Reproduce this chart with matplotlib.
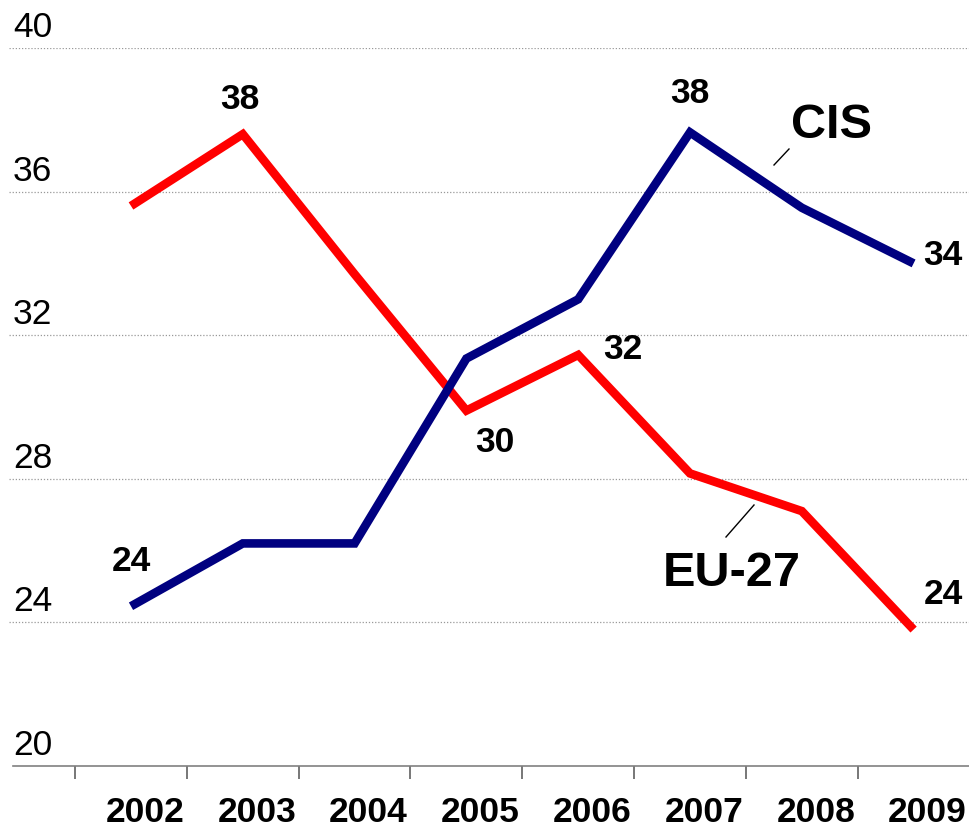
import matplotlib
matplotlib.use("Agg")
import matplotlib.pyplot as plt
import matplotlib.transforms as mtransforms

years = ["2002", "2003", "2004", "2005", "2006", "2007", "2008", "2009"]
cis = [24.45, 26.2, 26.2, 31.35, 33.0, 37.65, 35.55, 34.0]
eu27 = [35.6, 37.6, 33.7, 29.9, 31.45, 28.15, 27.1, 23.8]
y_ticks = [20, 24, 28, 32, 36, 40]

# data labels: (index, text, dx_px, dy_px)
cis_labels = [(0, "24", 0, 45), (5, "38", 0, 39), (7, "34", 29, 8)]
eu_labels = [(1, "38", -3, 35), (3, "30", 28, -32), (4, "32", 45, 5), (7, "24", 30, 35)]

plt.rcParams['font.family'] = ['Liberation Sans', 'DejaVu Sans']

W, H = 969, 830
fig = plt.figure(figsize=(W / 100, H / 100), dpi=100)
step = 111.8
x0px = 131.0
left_px, right_px = 9, 969
ax = fig.add_axes([left_px / W, (H - 766) / H, (right_px - left_px) / W, (766 - 48) / H])
ax.set_xlim((left_px - x0px) / step, (right_px - x0px) / step)
ax.set_ylim(20, 40)

xs = list(range(len(years)))
navy = "#000080"
red = "#FF0000"
ax.plot(xs, eu27, color=red, lw=6.2, solid_joinstyle='miter', solid_capstyle='butt', zorder=3)
ax.plot(xs, cis, color=navy, lw=6.2, solid_joinstyle='miter', solid_capstyle='butt', zorder=4)

# gridlines
for v in y_ticks[1:]:
    ax.axhline(v, color="#999999", lw=0.9, ls=(0, (1, 1.5)), zorder=1)

for s in ["top", "right", "left"]:
    ax.spines[s].set_visible(False)
ax.spines["bottom"].set_color("#808080")
ax.spines["bottom"].set_linewidth(1.2)
ax.spines["bottom"].set_bounds((13 - x0px) / step, (right_px - x0px) / step)

ax.set_xticks([i - 0.5 for i in range(len(years))])
ax.set_xticklabels([])
ax.tick_params(axis='x', direction='out', length=9, width=1.2, color="#606060")
ax.set_yticks([])

# y labels
ytrans = mtransforms.blended_transform_factory(fig.transFigure, ax.transData)
for v in y_ticks:
    off = mtransforms.ScaledTranslation(0, 11 / 100, fig.dpi_scale_trans)
    ax.text(13 / W, v, str(v), transform=ytrans + off, fontsize=25.5,
            ha='left', va='baseline', color='black')

# x labels
xtrans = mtransforms.blended_transform_factory(ax.transData, fig.transFigure)
for i, yr in enumerate(years):
    off = mtransforms.ScaledTranslation(14 / 100, 0, fig.dpi_scale_trans)
    ax.text(i, (H - 822) / H, yr, transform=xtrans + off,
            fontsize=25.5, fontweight='bold', ha='center', va='baseline')

def add_labels(series, labels):
    for idx, txt, dx, dy in labels:
        ax.annotate(txt, (idx, series[idx]), xytext=(dx * 0.72, dy * 0.72),
                    textcoords='offset points', ha='center', va='center',
                    fontsize=25.5, fontweight='bold', zorder=6)

add_labels(cis, cis_labels)
add_labels(eu27, eu_labels)

# series names with leader lines
fig.text(791 / W, 1 - 125 / H, "CIS", fontsize=35, fontweight='bold', ha='left', va='center')
fig.text(663 / W, 1 - 573 / H, "EU-27", fontsize=35, fontweight='bold', ha='left', va='center')
fig.add_artist(plt.Line2D([774 / W, 789 / W], [1 - 165 / H, 1 - 149 / H], color='black', lw=1.0))
fig.add_artist(plt.Line2D([726 / W, 754 / W], [1 - 537 / H, 1 - 505 / H], color='black', lw=1.0))

fig.savefig("out.png", dpi=100)
